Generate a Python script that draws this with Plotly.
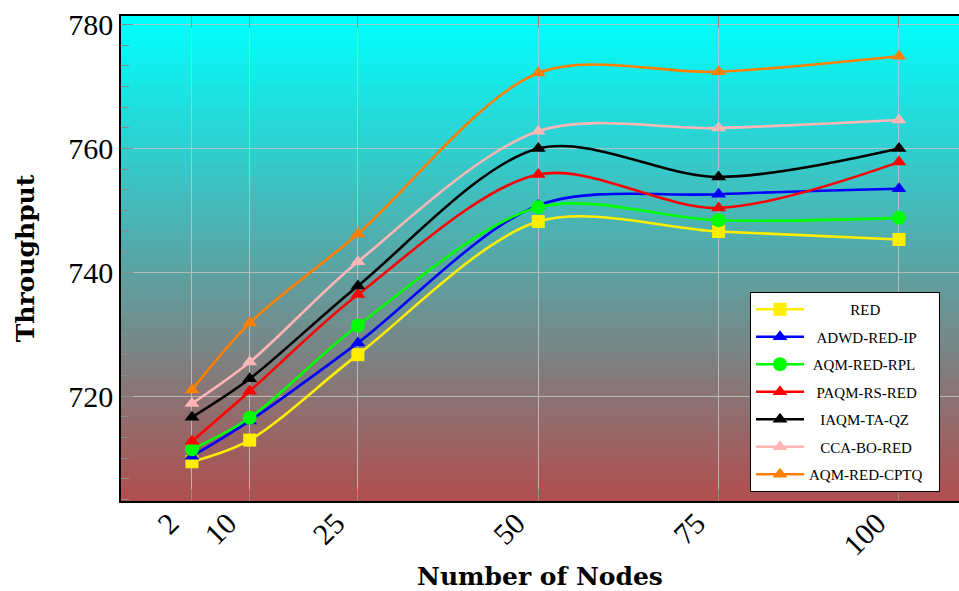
import plotly.graph_objects as go

nodes = [2, 10, 25, 50, 75, 100]
series_names = ["RED", "ADWD-RED-IP", "AQM-RED-RPL", "PAQM-RS-RED", "IAQM-TA-QZ", "CCA-BO-RED", "AQM-RED-CPTQ"]
red = [709.4, 712.9, 726.7, 748.2, 746.6, 745.3]
adwd_red_ip = [710.3, 716.0, 728.6, 750.8, 752.6, 753.5]
aqm_red_rpl = [711.4, 716.5, 731.4, 750.5, 748.4, 748.8]
paqm_rs_red = [712.7, 720.8, 736.4, 755.8, 750.4, 757.8]
iaqm_ta_qz = [716.6, 722.8, 737.8, 760.0, 755.4, 760.0]
cca_bo_red = [718.8, 725.5, 741.7, 762.8, 763.3, 764.6]
aqm_red_cptq = [721.0, 731.8, 746.2, 772.2, 772.4, 774.9]
y_ticks = [720, 740, 760, 780]

series_values = [red, adwd_red_ip, aqm_red_rpl, paqm_rs_red, iaqm_ta_qz, cca_bo_red, aqm_red_cptq]
colors = ["#FFEE00", "#0000FF", "#00FF00", "#FF0000", "#000000", "#FFB6B6", "#FF7F00"]
symbols = ["square", "triangle-up", "circle", "triangle-up", "triangle-up", "triangle-up", "triangle-up"]
# leading / trailing non-breaking spaces to centre legend labels like the original
lead_pad = [11, 2, 1, 2, 3, 3, 0]
trail_pad = [0, 0, 0, 0, 0, 0, 3]

fig = go.Figure()
for name, vals, col, sym, lp, tp in zip(series_names, series_values, colors, symbols, lead_pad, trail_pad):
    fig.add_trace(go.Scatter(
        x=nodes, y=vals, name="\u00a0" * lp + name + "\u00a0" * tp, mode="lines+markers",
        line=dict(color=col, width=2.6, shape="spline", smoothing=0.9),
        marker=dict(color=col, symbol=sym, size=13 if sym != "circle" else 14,
                    line=dict(width=0)),
        legendgroup=name,
    ))

# gradient background (cyan top -> brownish red bottom)
top = (0, 255, 255)
bot = (176, 78, 78)
n = 160
shapes = []
for i in range(n):
    t = i / (n - 1)
    c = tuple(int(round(bot[k] + (top[k] - bot[k]) * t)) for k in range(3))
    shapes.append(dict(type="rect", xref="paper", yref="paper",
                       x0=0, x1=1, y0=i / n, y1=min(1, (i + 1.6) / n),
                       fillcolor="rgb(%d,%d,%d)" % c, line=dict(width=0),
                       layer="below"))

serif = "Liberation Serif, Times New Roman, serif"
bold_serif = "DejaVu Serif, serif"
fig.update_layout(
    width=959, height=591,
    margin=dict(l=121, r=0, t=16, b=90),
    paper_bgcolor="white", plot_bgcolor="rgba(0,0,0,0)",
    shapes=shapes,
    font=dict(family=serif, color="black"),
    showlegend=True,
    legend=dict(x=0.7506, y=0.431, xanchor="left", yanchor="top",
                bgcolor="white", bordercolor="black", borderwidth=1,
                font=dict(family=serif, size=15), tracegroupgap=5,
                itemwidth=48),
    xaxis=dict(range=[-7.84, 108.32], tickvals=nodes, ticktext=[str(v) for v in nodes],
               tickangle=-45, tickfont=dict(size=30, family=serif),
               ticklabelshift=-22, ticklabelstandoff=-9,
               showgrid=True, gridcolor="rgba(195,195,195,0.85)", gridwidth=1,
               showline=True, linecolor="black", linewidth=1.5, mirror="ticks",
               ticks="inside", ticklen=12, tickcolor="rgba(140,140,140,1)",
               zeroline=False, automargin=False,
               title=dict(text="<b>Number of Nodes</b>", font=dict(size=25, family=bold_serif), standoff=13)),
    yaxis=dict(range=[703.06, 781.4], tickvals=y_ticks,
               tickfont=dict(size=30, family=serif),
               showgrid=True, gridcolor="rgba(195,195,195,0.85)", gridwidth=1,
               showline=True, linecolor="black", linewidth=1.5, mirror=False,
               ticks="inside", ticklen=12, tickcolor="rgba(140,140,140,1)",
               zeroline=False, automargin=False,
               minor=dict(tick0=720, dtick=20 / 6, ticks="inside", ticklen=8,
                          tickcolor="rgba(140,140,140,1)", showgrid=False),
               title=dict(text="<b>Throughput</b>", font=dict(size=25, family=bold_serif), standoff=27)),
)

fig.write_html("out.html")
